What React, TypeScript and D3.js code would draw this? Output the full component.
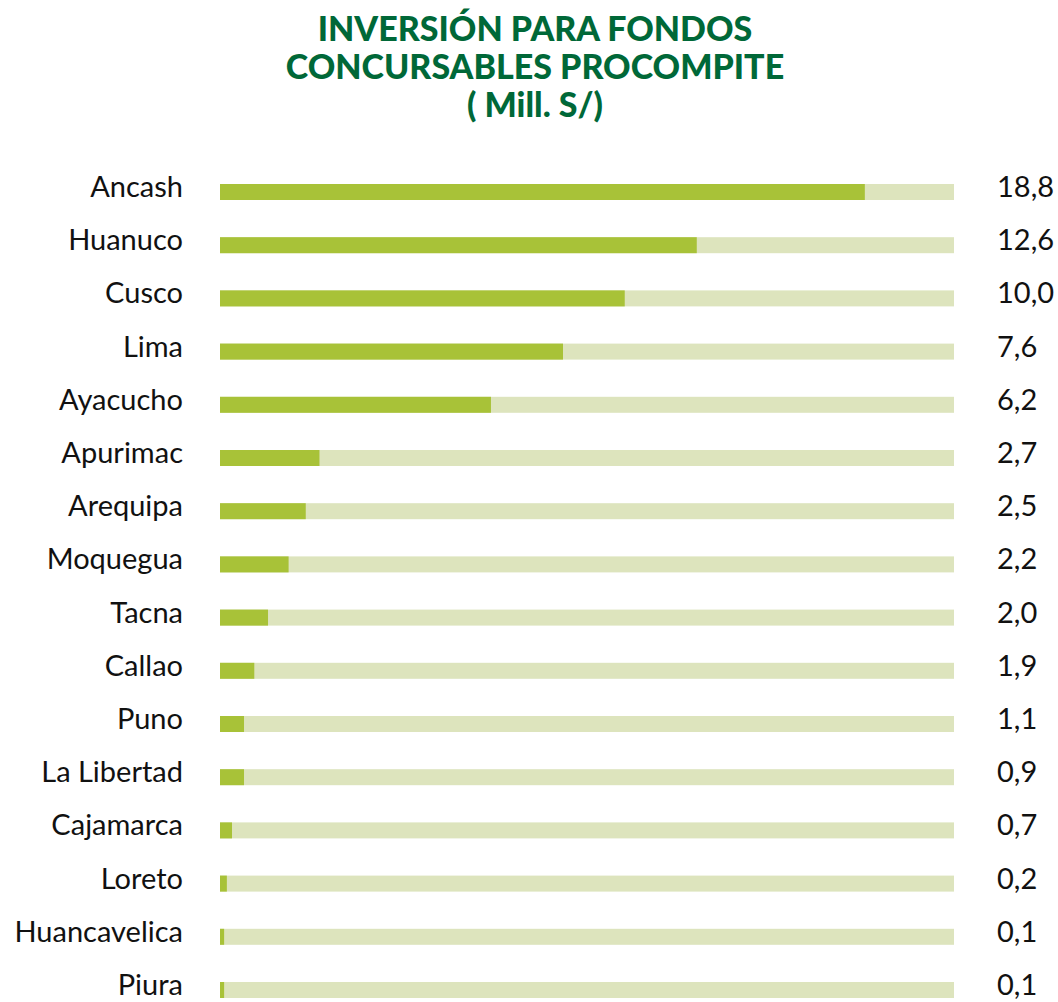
import React from "react";
import * as d3 from "d3";

// regions, labelled amounts (Mill. S/) and the drawn bar lengths
const regions = [
  "Ancash", "Huanuco", "Cusco", "Lima", "Ayacucho", "Apurimac", "Arequipa", "Moquegua",
  "Tacna", "Callao", "Puno", "La Libertad", "Cajamarca", "Loreto", "Huancavelica", "Piura",
];
const labels = [
  "18,8", "12,6", "10,0", "7,6", "6,2", "2,7", "2,5", "2,2",
  "2,0", "1,9", "1,1", "0,9", "0,7", "0,2", "0,1", "0,1",
];
const barLengths = [
  18.8, 13.9, 11.8, 10.0, 7.9, 2.9, 2.5, 2.0, 1.4, 1.0, 0.7, 0.7, 0.35, 0.2, 0.12, 0.12,
];
const trackMax = 21.4;
const titleLines = ["INVERSIÓN PARA FONDOS", "CONCURSABLES PROCOMPITE", "( Mill. S/)"];

const width = 1058;
const height = 1002;
const barH = 16;
const font = "Lato, 'Open Sans', sans-serif";

export default function App() {
  const x = d3.scaleLinear().domain([0, trackMax]).range([220, 954]);
  const y = d3.scalePoint<string>().domain(regions).range([192, 990]);

  return (
    <svg
      width={width}
      height={height}
      style={{ position: "absolute", left: 0, top: 0, background: "#fff" }}
    >
      <g fontFamily={font} fontWeight={900} fill="#006838" textAnchor="middle" fontSize={34}>
        {titleLines.map((t, i) => (
          <text key={t} x={535} y={41 + i * 38}>
            {t}
          </text>
        ))}
      </g>
      {regions.map((r, i) => {
        const cy = y(r)!;
        return (
          <g key={r}>
            <rect x={x(0)} y={cy - barH / 2} width={x(trackMax) - x(0)} height={barH} fill="#dde4bd" />
            <rect x={x(0)} y={cy - barH / 2} width={x(barLengths[i]) - x(0)} height={barH} fill="#a8c238" />
            <text
              x={183}
              y={cy + 5}
              textAnchor="end"
              fontFamily={font}
              fontSize={29}
              fill="#111"
            >
              {r}
            </text>
            <text x={997} y={cy + 5} fontFamily={font} fontSize={29} fill="#111">
              {labels[i]}
            </text>
          </g>
        );
      })}
    </svg>
  );
}
